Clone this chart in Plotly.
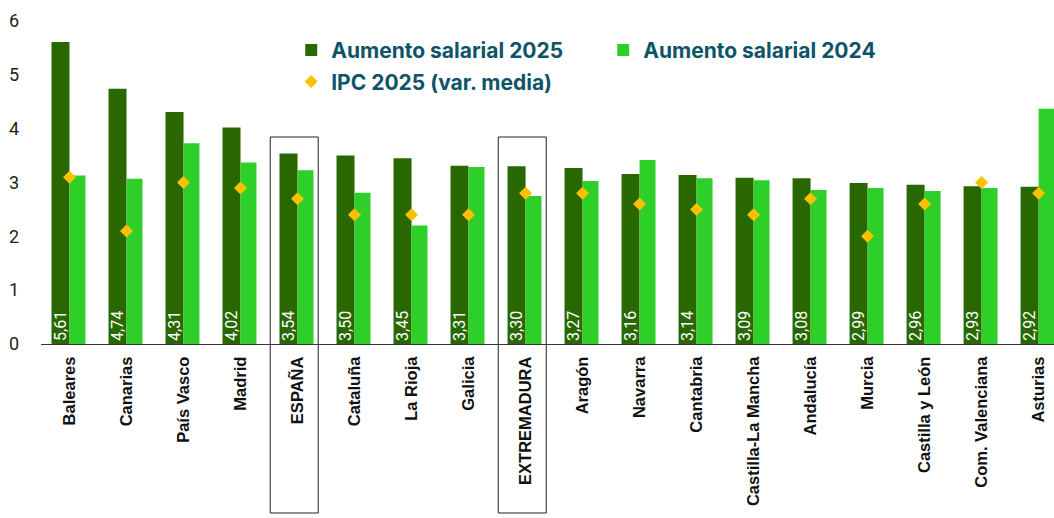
import plotly.graph_objects as go

regiones = ["Baleares", "Canarias", "País Vasco", "Madrid", "ESPAÑA", "Cataluña", "La Rioja",
            "Galicia", "EXTREMADURA", "Aragón", "Navarra", "Cantabria", "Castilla-La Mancha",
            "Andalucía", "Murcia", "Castilla y León", "Com. Valenciana", "Asturias"]
aumento_2025 = [5.61, 4.74, 4.31, 4.02, 3.54, 3.50, 3.45, 3.31, 3.30, 3.27, 3.16, 3.14, 3.09,
                3.08, 2.99, 2.96, 2.93, 2.92]
aumento_2024 = [3.13, 3.07, 3.73, 3.37, 3.23, 2.81, 2.20, 3.29, 2.75, 3.03, 3.42, 3.08, 3.04,
                2.86, 2.90, 2.84, 2.90, 4.37]
ipc_2025 = [3.1, 2.1, 3.0, 2.9, 2.7, 2.4, 2.4, 2.4, 2.8, 2.8, 2.6, 2.5, 2.4, 2.7, 2.0, 2.6, 3.0, 2.8]
y_ticks = [0, 1, 2, 3, 4, 5, 6]
destacadas = ["ESPAÑA", "EXTREMADURA"]

DARK = "#296800"
LIGHT = "#2dcf28"
GOLD = "#ffc000"
TEAL = "#0e5468"

etiquetas = [f"{v:.2f}".replace(".", ",") for v in aumento_2025]

fig = go.Figure()
fig.add_trace(go.Bar(
    x=regiones, y=aumento_2025, name="Aumento salarial 2025",
    marker=dict(color=DARK, line=dict(width=0)),
    width=0.316, offset=-0.316,
    text=etiquetas, textposition="inside", insidetextanchor="start", textangle=-90,
    constraintext="none",
    insidetextfont=dict(color="white", size=16, family="Roboto"),
    legend="legend",
))
fig.add_trace(go.Bar(
    x=regiones, y=aumento_2024, name="Aumento salarial 2024",
    marker=dict(color=LIGHT, line=dict(width=0)),
    width=0.28, offset=0.0,
    legend="legend",
))
fig.add_trace(go.Scatter(
    x=regiones, y=ipc_2025, name="IPC 2025 (var. media)", mode="markers",
    marker=dict(symbol="diamond", size=10, color=GOLD, line=dict(width=0)),
    legend="legend2",
))

L = 41
PX_PER_UNIT = 53.83
shapes = []
for reg in destacadas:
    i = regiones.index(reg)
    shapes.append(dict(type="rect", xref="x", yref="paper",
                       x0=i - 0.479, x1=i + 0.363, y0=-0.4985, y1=0.6106,
                       line=dict(color="#222222", width=1), fillcolor="rgba(0,0,0,0)",
                       layer="above"))

fig.update_layout(
    width=1054, height=518,
    margin=dict(l=L, r=0, t=5, b=174),
    plot_bgcolor="white", paper_bgcolor="white",
    barmode="group",
    showlegend=True,
    legend=dict(orientation="h", x=0.247, xanchor="left", y=0.927, yanchor="top",
                entrywidth=267, entrywidthmode="pixels",
                font=dict(family="Inter", size=21, color=TEAL, weight=700),
                bgcolor="rgba(0,0,0,0)", traceorder="normal"),
    legend2=dict(orientation="h", x=0.247, xanchor="left", y=0.834, yanchor="top",
                 font=dict(family="Inter", size=21, color=TEAL, weight=700),
                 bgcolor="rgba(0,0,0,0)"),
    xaxis=dict(type="category", range=[-0.5, 17.27], showgrid=False,
               showline=True, linecolor="#333333", linewidth=1,
               tickangle=-90, ticks="", ticklabelstandoff=5,
               tickfont=dict(family="Liberation Sans", size=16.5, color="#111111", weight=700)),
    yaxis=dict(range=[0, 339 / PX_PER_UNIT], tickvals=y_ticks, showgrid=False,
               showline=False, zeroline=False, ticks="", ticklabelstandoff=21,
               tickfont=dict(family="Roboto", size=18, color="#222222")),
    shapes=shapes,
)

fig.write_html("out.html", config={"displayModeBar": False},
               post_script="document.body.style.margin='0';")
